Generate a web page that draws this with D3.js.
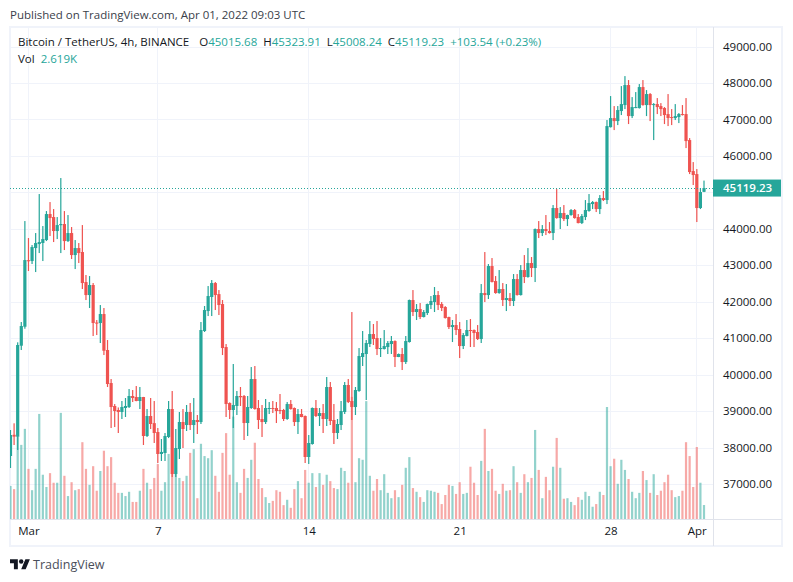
<!DOCTYPE html>
<html>
<head>
<meta charset="utf-8">
<script src="https://cdn.jsdelivr.net/npm/d3@7/dist/d3.min.js"></script>
<style>
  html, body { margin: 0; padding: 0; background: #fff; }
  text { font-family: "Open Sans", sans-serif; }
</style>
</head>
<body>
<div id="chart"></div>
<script>
// Candle values, 4h bars, one entry per bar from left to right
const opens = [37768,38350,38297,40794,41315,43140,43117,43473,43583,43611,
43693,44406,44324,43940,44100,44132,43665,43885,43281,43473,
43364,42540,42184,42459,41430,41416,41663,40676,39770,39140,
39030,38975,39085,39112,39414,39386,39277,39386,38317,38865,
38670,38426,37823,37850,38290,39057,37274,37960,38701,38618,
38975,38618,38756,38700,41197,41745,42130,42513,42210,41937,
40757,39221,39030,39140,39414,39414,38673,39085,39880,39085,
38783,38700,39060,39085,39085,39030,39030,38783,39194,39085,
38700,38920,38865,37741,38097,39085,38865,38947,38783,39661,
38756,38399,38618,38975,39716,39277,39112,39551,40484,40566,
40840,41114,41005,40703,40703,40757,40840,40922,40484,40566,
40346,40895,42047,41718,41800,41581,41690,41910,41992,42184,
41937,41855,41581,41306,41361,41252,40785,41060,41224,41224,
41169,40977,42239,42184,42980,42568,42239,42349,42047,42102,
42020,42623,42184,42870,42678,43062,42925,43995,43885,43995,
43940,43885,44571,44296,44434,44269,44379,44516,44324,44159,
44324,44490,44680,44735,44543,44845,44790,46790,47039,46957,
47232,47396,47945,47094,47320,47314,47890,47396,47698,47396,
47423,47368,47314,47149,47067,47039,47067,47149,47149,46436,
45585,45503,44571,45015.68];
const highs = [38481,38665,40887,41444,44214,43748,43556,43885,44955,44077,
44488,44735,44543,44324,45394,44488,44379,44050,43693,43611,
44104,42733,42705,42513,41499,41910,41828,40950,39880,39194,
39100,39277,39359,39606,39578,39688,39661,39390,39057,39359,
39277,38536,38234,38399,39277,39551,38509,38975,39057,39167,
39222,39359,38893,41444,41883,42431,42596,42541,42321,42047,
40840,39240,40292,39551,39661,39441,39414,40209,40237,39304,
39167,39332,39249,39277,39249,39469,39060,39249,39304,39100,
39057,39057,38880,38344,39100,39304,39085,39194,39935,39798,
39194,38783,39277,39798,39880,41718,39661,40730,41197,40950,
41471,41389,41471,41005,41224,40922,41060,40940,40580,40730,
41060,42060,42321,41937,41965,41773,41950,42157,42404,42294,
41992,41880,41590,41499,41663,41444,41142,41499,41526,41240,
41361,42486,43364,43035,43199,42705,42870,42513,42486,42239,
42760,42760,43007,43281,43473,43227,44010,44214,44104,44379,
44187,44653,45092,44598,44653,44390,44543,44543,44406,44406,
44790,44955,44763,44750,44927,45037,46985,47643,47369,47369,
47917,48191,48082,47615,47753,47972,48082,47807,47725,47450,
47588,47450,47341,47698,47286,47423,47177,47396,47588,46490,
45832,45640,45119,45323.91];
const lows = [37439,38070,37933,40676,41260,42843,43035,42815,43336,43117,
43665,43803,43638,43720,43336,43419,43640,43172,42897,43062,
42349,42047,41828,41060,41087,40868,40538,39661,38536,38563,
38399,38783,38838,39085,39249,39270,39057,38070,38290,38509,
38125,37576,37631,37631,38260,37192,37192,37686,37987,38454,
38481,38125,38372,38646,41170,41608,41608,41773,41636,40538,
38838,38783,38536,38893,39140,38207,38317,39060,39040,38509,
38290,38646,38920,38947,38673,38920,38728,38760,39040,38591,
38372,38830,37576,37549,38080,38838,38591,38399,38591,38618,
38097,38234,38481,38920,39221,38756,38893,39530,40237,39304,
40758,40813,40538,40484,40690,40566,40566,40209,40480,40127,
40292,40880,41608,41499,41526,41570,41636,41800,41718,41773,
41745,41540,41252,40895,41087,40456,40703,41050,40758,40758,
40950,40868,41992,42075,42530,42220,42220,41883,41745,41883,
41883,42170,42170,42513,42660,42678,42541,43748,43803,43830,
43870,43693,44280,43995,44214,44077,44360,44280,44150,44132,
44241,44470,44543,44461,44406,44763,44680,46780,46710,46847,
47122,47286,46875,47039,47310,47300,47380,47094,46957,46436,
47149,47094,46875,46820,46847,46985,46902,47110,46216,45503,
45202,44187,44543,45008.24];
const closes = [38344,38300,40813,41334,43144,43110,43501,43611,43638,43720,
44406,44296,43940,44104,44132,43665,43885,43281,43473,43336,
42513,42184,42459,41416,41400,41663,40656,39743,39112,39002,
38975,39112,39140,39414,39359,39277,39386,38317,38865,38646,
38399,37823,37880,38317,39057,37274,37987,38701,38509,38975,
38618,38756,38700,41224,41773,42157,42513,42184,41910,40730,
39194,39030,39167,39414,39380,38673,39112,39880,39057,38756,
38700,39085,39085,39060,39002,39002,38783,39194,39057,38700,
38920,38838,37741,38125,39085,38865,38947,38783,39661,38728,
38399,38646,39002,39716,39249,39112,39578,40511,40593,40868,
41114,40977,40703,40730,40785,40868,40922,40484,40566,40346,
40922,42047,41718,41800,41581,41718,41937,42020,42184,41910,
41828,41553,41306,41361,41224,40785,41087,41224,41200,41142,
40977,42239,42184,42980,42541,42239,42349,42047,42102,42020,
42623,42184,42870,42678,43062,42925,43995,43885,43995,43940,
43885,44571,44296,44434,44269,44379,44516,44296,44159,44351,
44516,44708,44735,44543,44845,44790,46820,47039,46957,47259,
47423,47945,47094,47341,47341,47890,47396,47698,47396,47423,
47341,47286,47122,47039,47039,47094,47149,47122,46408,45558,
45476,44571,45010,45119.23];
// Volume in thousands
const volumes = [6.2,5.6,15.4,13.9,16.9,9.4,5.4,9.4,19.7,8.3,
6.0,8.6,6.8,6.8,19.9,8.1,4.3,6.9,5.4,5.6,
14.4,9.4,6.4,9.9,5.3,9.0,12.8,9.9,11.6,6.8,
4.9,4.9,4.3,5.1,3.2,3.2,5.3,9.4,6.8,5.6,
7.7,10.3,5.3,6.9,12.2,12.9,11.1,7.7,7.1,8.1,
12.4,13.1,3.9,14.1,11.8,11.4,12.9,8.1,5.1,12.4,
16.1,8.3,19.2,6.9,4.9,9.4,7.7,11.1,14.3,7.5,
5.8,4.1,3.0,3.4,5.4,5.1,2.6,3.6,2.1,5.6,
7.1,3.9,9.2,6.8,8.6,6.0,8.6,6.4,8.3,7.1,
5.8,5.6,9.6,9.0,6.8,22.9,6.9,11.4,11.1,22.1,
8.1,5.3,7.5,5.4,8.4,4.9,3.9,5.4,4.1,6.4,
9.6,11.6,5.8,5.1,4.1,3.2,5.4,5.3,5.1,4.9,
2.8,4.5,6.4,6.2,4.7,6.9,4.7,4.9,9.8,6.8,
4.5,10.9,16.9,9.0,9.4,5.3,4.7,6.6,5.3,5.4,
9.9,6.9,4.9,8.4,6.9,7.7,16.7,9.2,3.9,7.9,
5.4,9.8,15.2,9.6,3.8,3.9,3.2,2.6,4.1,3.6,
5.1,4.3,2.3,2.8,5.1,4.5,21.0,9.9,11.3,6.6,
11.1,9.2,7.5,5.1,3.9,4.9,9.0,7.3,4.9,8.4,
4.5,5.3,6.9,8.3,5.4,4.1,4.3,5.3,14.4,11.8,
6.0,13.5,6.8,2.619];

const priceTicks = [37000,38000,39000,40000,41000,42000,43000,44000,45000,46000,47000,48000,49000];
// 45000 has a grid line but its label is covered by the last price tag in the original
const priceLabels = [37000,38000,39000,40000,41000,42000,43000,44000,46000,47000,48000,49000];
const timeTickBars = [5,41,83,125,167,191];
const timeTickLabels = ['Mar','7','14','21','28','Apr'];
const lastPrice = 45119.23;

const publishedText = 'Published on TradingView.com, Apr 01, 2022 09:03 UTC';
const symbolText = 'Bitcoin / TetherUS, 4h, BINANCE';
const ohlcKeys = ['O','H','L','C'];
const ohlcValues = ['45015.68','45323.91','45008.24','45119.23'];
const changeText = '+103.54 (+0.23%)';
const volValue = '2.619K';

const upColor = '#26a69a';
const downColor = '#ef5350';
const gridColor = '#f0f3fa';
const lineColor = '#e0e3eb';
const textColor = '#131722';

const width = 793, height = 582;
const paneLeft = 10, paneRight = 713, paneTop = 27, paneBottom = 519;

const svg = d3.select('#chart').append('svg')
    .attr('width', width)
    .attr('height', height)
    .style('display', 'block');

const x = d3.scaleLinear().domain([0, 193]).range([10.5, 704]);
const y = d3.scaleLinear().domain([37000, 49000]).range([484, 46.6]);
const yVol = d3.scaleLinear().domain([0, 21]).range([paneBottom, paneBottom - 112]);

svg.append('defs').append('clipPath').attr('id', 'pane')
    .append('rect')
    .attr('x', paneLeft).attr('y', paneTop)
    .attr('width', paneRight - paneLeft).attr('height', paneBottom - paneTop);

// Cadre extérieur
svg.append('rect')
    .attr('x', 10).attr('y', 27)
    .attr('width', 772).attr('height', 519)
    .attr('fill', 'none')
    .attr('stroke', gridColor)
    .attr('stroke-width', 2);

// Grille
const grid = svg.append('g').attr('shape-rendering', 'crispEdges');
grid.selectAll('.hgrid').data(priceTicks).enter().append('line')
    .attr('x1', paneLeft).attr('x2', paneRight)
    .attr('y1', d => Math.round(y(d)) + 0.5).attr('y2', d => Math.round(y(d)) + 0.5)
    .attr('stroke', gridColor);
grid.selectAll('.vgrid').data(timeTickBars).enter().append('line')
    .attr('x1', d => Math.floor(x(d)) + 0.5).attr('x2', d => Math.floor(x(d)) + 0.5)
    .attr('y1', paneTop).attr('y2', paneBottom)
    .attr('stroke', gridColor);

const pane = svg.append('g').attr('clip-path', 'url(#pane)');

// Volumes
pane.append('g')
    .selectAll('rect').data(volumes).enter().append('rect')
    .attr('x', (d, i) => x(i) - 1.1)
    .attr('width', 2.2)
    .attr('y', d => yVol(d))
    .attr('height', d => paneBottom - yVol(d))
    .attr('fill', (d, i) => closes[i] >= opens[i] ? upColor : downColor)
    .attr('fill-opacity', 0.5);

// Bougies
const candles = pane.append('g')
    .selectAll('g').data(opens).enter().append('g')
    .attr('fill', (d, i) => closes[i] >= opens[i] ? upColor : downColor);
candles.append('rect')
    .attr('x', (d, i) => x(i) - 0.6)
    .attr('width', 1.2)
    .attr('y', (d, i) => y(highs[i]))
    .attr('height', (d, i) => y(lows[i]) - y(highs[i]));
candles.append('rect')
    .attr('x', (d, i) => x(i) - 1.6)
    .attr('width', 3.2)
    .attr('y', (d, i) => y(Math.max(opens[i], closes[i])))
    .attr('height', (d, i) => Math.max(1, Math.abs(y(opens[i]) - y(closes[i]))));

// Ligne du dernier prix
svg.append('line')
    .attr('x1', paneLeft).attr('x2', paneRight)
    .attr('y1', Math.round(y(lastPrice)) + 0.5).attr('y2', Math.round(y(lastPrice)) + 0.5)
    .attr('stroke', upColor)
    .attr('stroke-dasharray', '1,2');

// Séparateurs des axes
svg.append('line').attr('x1', paneRight + 0.5).attr('x2', paneRight + 0.5)
    .attr('y1', paneTop).attr('y2', 546).attr('stroke', lineColor);
svg.append('line').attr('x1', paneLeft).attr('x2', 782)
    .attr('y1', paneBottom + 0.5).attr('y2', paneBottom + 0.5).attr('stroke', lineColor);

// Axe des prix
const yAxis = d3.axisRight(y).tickValues(priceLabels).tickSize(0).tickPadding(0)
    .tickFormat(d3.format('.2f'));
const yG = svg.append('g').attr('transform', `translate(723,0)`).call(yAxis);
yG.select('.domain').remove();
yG.selectAll('text')
    .attr('font-size', 11.5)
    .attr('fill', textColor)
    .style('font-family', '"Open Sans", sans-serif');

// Étiquette du dernier prix
svg.append('rect')
    .attr('x', paneRight).attr('y', y(lastPrice) - 8.5)
    .attr('width', 68).attr('height', 17)
    .attr('fill', upColor);
svg.append('text')
    .attr('x', 723).attr('y', y(lastPrice) + 4.2)
    .attr('font-size', 11.5)
    .attr('font-weight', 600)
    .attr('fill', '#fff')
    .text(d3.format('.2f')(lastPrice));

// Axe du temps
const xAxis = d3.axisBottom(x).tickValues(timeTickBars).tickSize(0).tickPadding(0)
    .tickFormat((d, i) => timeTickLabels[i]);
const xG = svg.append('g').attr('transform', `translate(0,527)`).call(xAxis);
xG.select('.domain').remove();
xG.selectAll('text')
    .attr('font-size', 11.5)
    .attr('fill', textColor)
    .style('font-family', '"Open Sans", sans-serif');

// Textes du haut
svg.append('text').attr('x', 10).attr('y', 19)
    .attr('font-size', 11.5).attr('fill', '#3a3e4a')
    .text(publishedText);

const legend = svg.append('text').attr('x', 18).attr('y', 46)
    .attr('font-size', 11.5).attr('fill', textColor);
legend.append('tspan').text(symbolText);
ohlcKeys.forEach((k, i) => {
    legend.append('tspan').attr('dx', i === 0 ? 10 : 6).text(k);
    legend.append('tspan').attr('fill', upColor).text(ohlcValues[i]);
});
legend.append('tspan').attr('dx', 6).attr('fill', upColor).text(changeText);

const volLegend = svg.append('text').attr('x', 18).attr('y', 63)
    .attr('font-size', 11.5).attr('fill', textColor);
volLegend.append('tspan').text('Vol');
volLegend.append('tspan').attr('dx', 6).attr('fill', upColor).text(volValue);

// Logo en bas
svg.append('g').attr('transform', 'translate(10,557) scale(0.56)')
    .attr('fill', textColor)
    .call(g => {
        g.append('path').attr('d', 'M14 22H7V11H0V4h14v18zM28 22h-8l7.5-18h8L28 22z');
        g.append('circle').attr('cx', 20).attr('cy', 8).attr('r', 4);
    });
svg.append('text').attr('x', 33).attr('y', 569)
    .attr('font-size', 12.5).attr('fill', '#4a4e5a')
    .text('TradingView');
</script>
</body>
</html>
